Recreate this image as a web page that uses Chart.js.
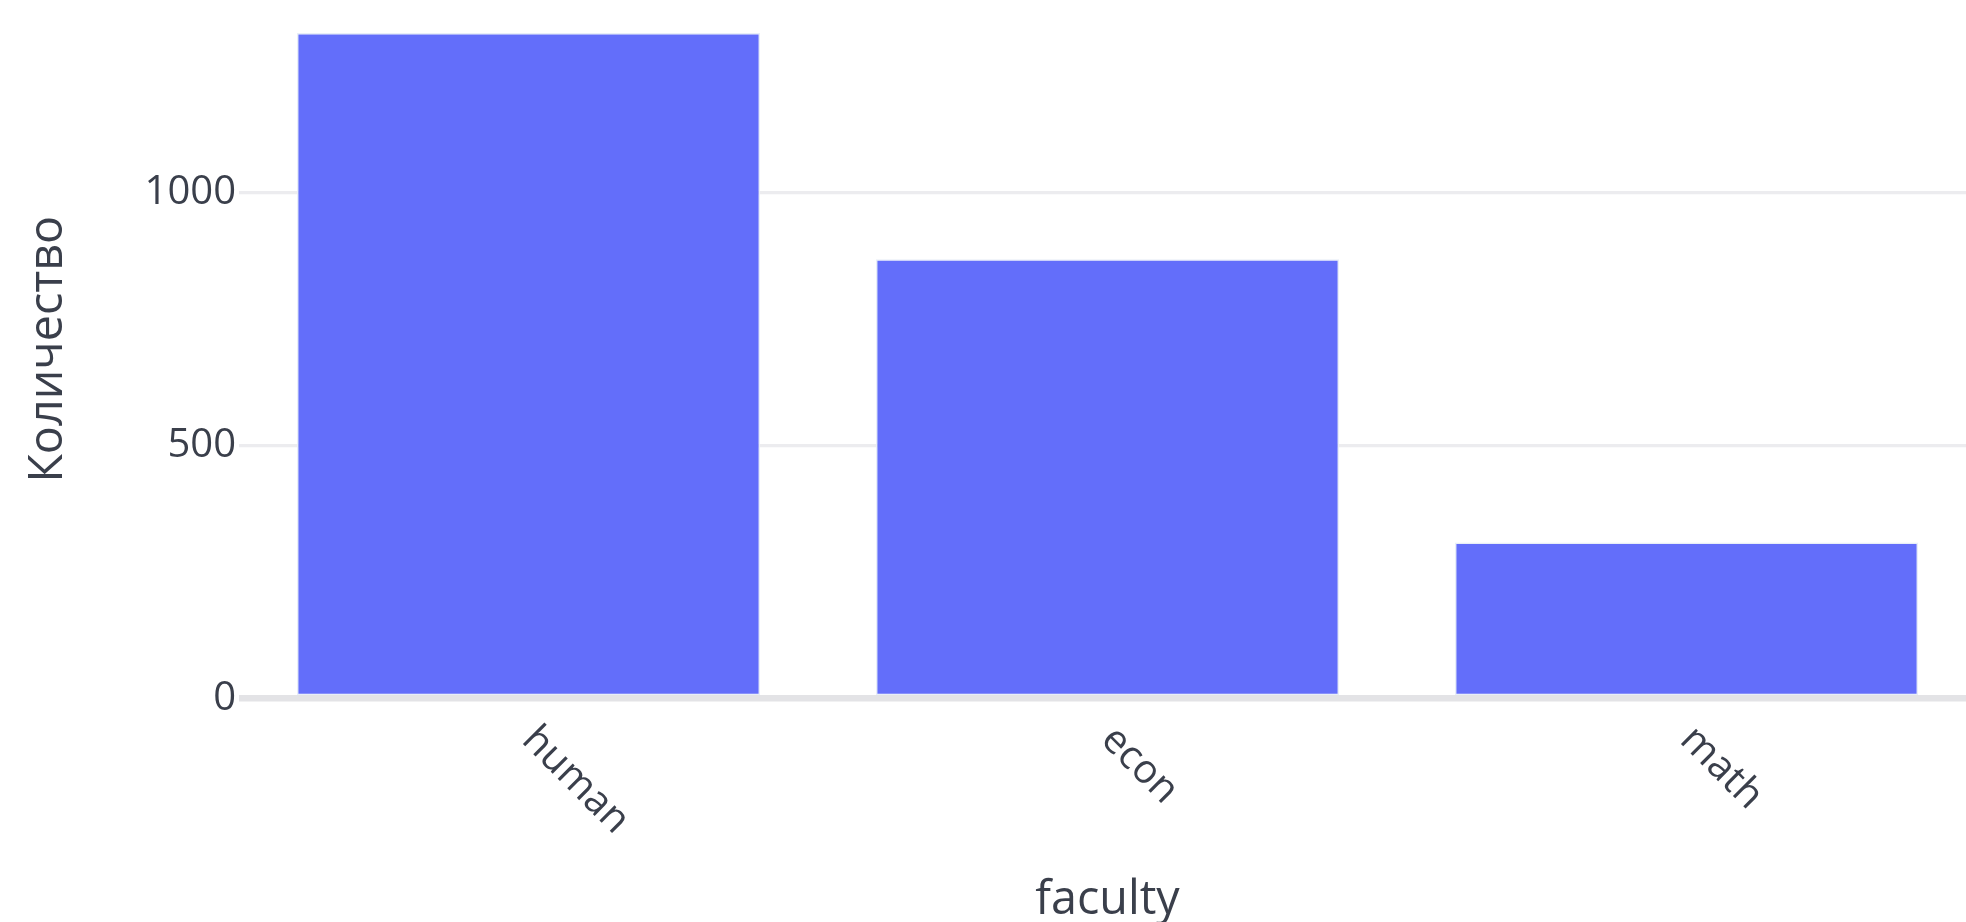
<!DOCTYPE html>
<html>
<head>
<meta charset="utf-8">
<script src="https://cdn.jsdelivr.net/npm/chart.js@4.4.1/dist/chart.umd.min.js"></script>
<style>
html, body { margin: 0; padding: 0; background: #fff; overflow: hidden; }
#barChart { display: block; }
</style>
</head>
<body>
<canvas id="barChart" width="1976" height="930"></canvas>
<script>
// data
var faculties = ['human', 'econ', 'math'];
var counts = [1315, 868, 308];
var yTicks = [0, 500, 1000];
var yMax = 1380;

var xTitle = 'faculty';
var yTitle = 'Количество';

// category axis whose slanted labels hang down to the right of the tick
class SlantedCategoryScale extends Chart.CategoryScale {
    _getXAxisLabelAlignment() {
        return 'left';
    }
}
SlantedCategoryScale.id = 'slantedCategory';
SlantedCategoryScale.defaults = Chart.CategoryScale.defaults;
Chart.register(SlantedCategoryScale);

Chart.defaults.font.family = "'Open Sans', sans-serif";
Chart.defaults.color = '#3a3f4b';

var ctx = document.getElementById('barChart').getContext('2d');
var myBarChart = new Chart(ctx, {
    type: 'bar',
    data: {
        labels: faculties,
        datasets: [{
            label: yTitle,
            data: counts,
            backgroundColor: '#636efa',
            borderColor: 'rgba(229, 236, 246, 0.9)',
            borderWidth: 1.5,
            borderSkipped: false,
            barPercentage: 0.8,
            categoryPercentage: 1.0
        }]
    },
    options: {
        responsive: false,
        animation: false,
        layout: { padding: 0 },
        plugins: {
            legend: { display: false },
            tooltip: { enabled: false }
        },
        scales: {
            x: {
                type: 'slantedCategory',
                grid: { display: false, drawTicks: false },
                border: { display: false },
                ticks: {
                    minRotation: -45,
                    maxRotation: -45,
                    padding: 18,
                    font: { size: 40 }
                },
                title: {
                    display: true,
                    text: xTitle,
                    font: { size: 46.7 },
                    padding: { top: 0, bottom: 1 }
                },
                afterFit: function (scale) {
                    scale.height = 231.5;
                    scale.paddingLeft = 0;
                    scale.paddingRight = 0;
                }
            },
            y: {
                min: 0,
                max: yMax,
                grid: {
                    drawTicks: false,
                    color: function (c) { return c.tick && c.tick.value === 0 ? '#e3e3e6' : '#ececef'; },
                    lineWidth: function (c) { return c.tick && c.tick.value === 0 ? 6.5 : 3.3; }
                },
                border: { display: false },
                ticks: {
                    padding: 3,
                    font: { size: 40 },
                    callback: function (v) { return String(v); }
                },
                afterBuildTicks: function (scale) {
                    scale.ticks = yTicks.map(function (v) { return { value: v }; });
                },
                title: {
                    display: true,
                    text: yTitle,
                    font: { size: 46.7 },
                    padding: { top: 21, bottom: 0 }
                },
                afterFit: function (scale) {
                    scale.width = 239;
                    scale.paddingTop = 0;
                    scale.paddingBottom = 0;
                }
            }
        }
    }
});
</script>
</body>
</html>
